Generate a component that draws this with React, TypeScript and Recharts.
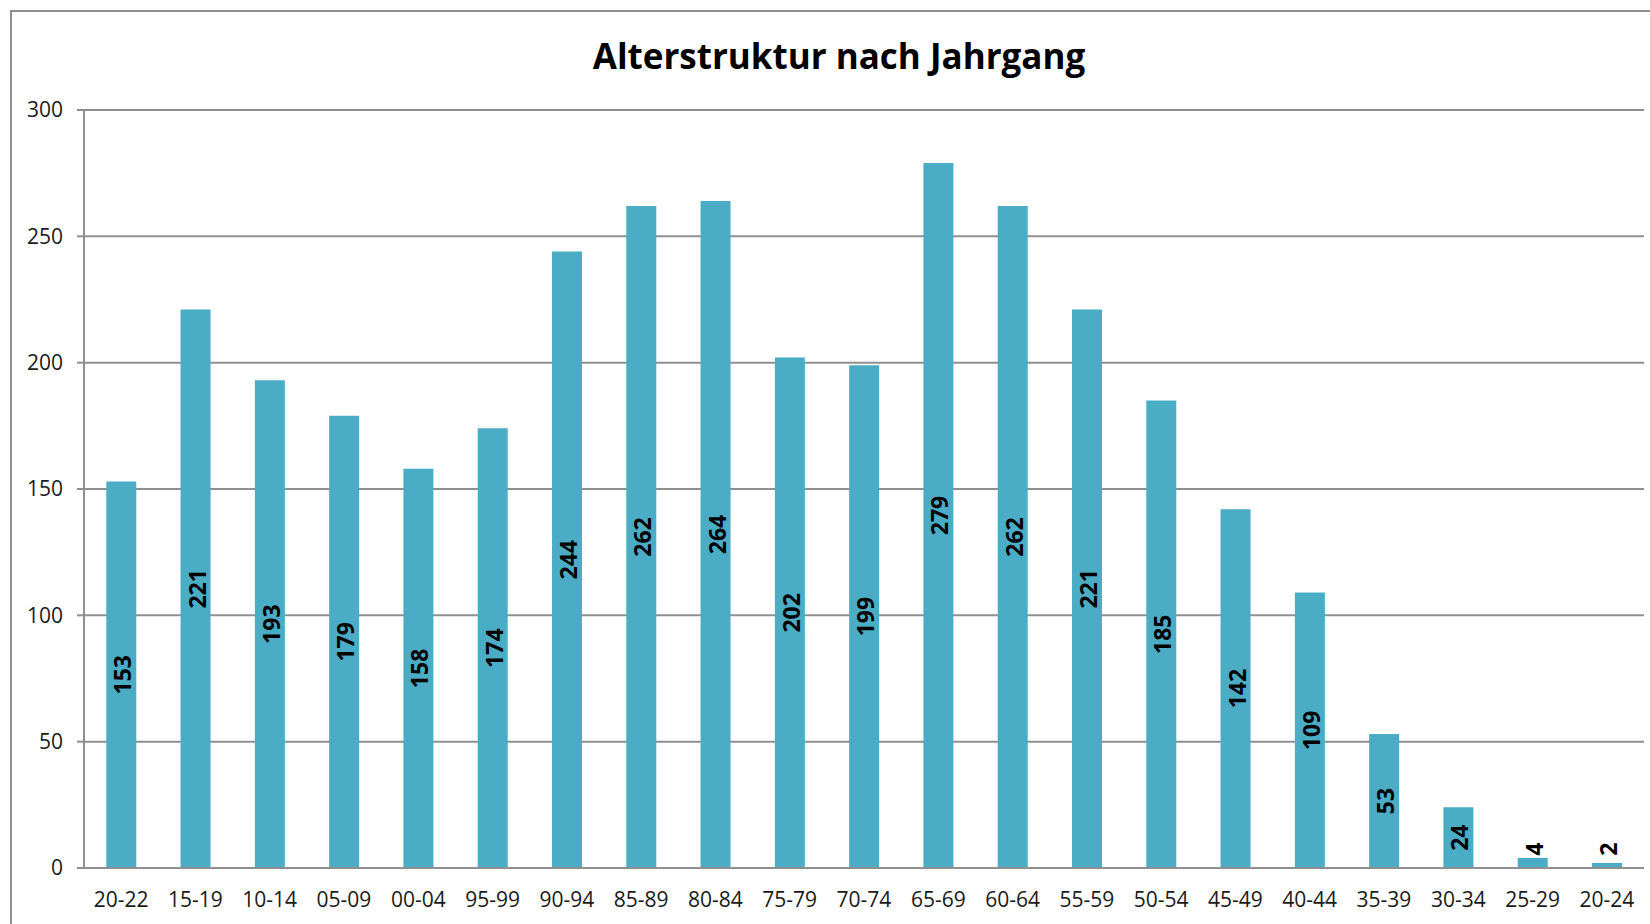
import React from "react";
import { BarChart, Bar, XAxis, YAxis, CartesianGrid, LabelList } from "recharts";

const categories = ["20-22","15-19","10-14","05-09","00-04","95-99","90-94","85-89","80-84","75-79","70-74","65-69","60-64","55-59","50-54","45-49","40-44","35-39","30-34","25-29","20-24"];
const values = [153,221,193,179,158,174,244,262,264,202,199,279,262,221,185,142,109,53,24,4,2];
const yTicks = [0, 50, 100, 150, 200, 250, 300];
const title = "Alterstruktur nach Jahrgang";

const data = categories.map((c, i) => ({ name: c, value: values[i] }));

const FONT = "'Open Sans', sans-serif";
const GRAY = "#8f8f8f";

const BarLabel = (props: any) => {
  const { x, y, width, height, value } = props;
  const fontSize = 23;
  const textLen = String(value).length * fontSize * 0.6;
  const cx = x + width / 2 + 1;
  let cy = y + height / 2;
  if (height < textLen + 8) {
    cy = y + height - 12 - textLen / 2;
  }
  return (
    <text
      x={cx}
      y={cy}
      transform={`rotate(-90, ${cx}, ${cy})`}
      textAnchor="middle"
      dominantBaseline="central"
      fontFamily={FONT}
      fontWeight={700}
      fontSize={fontSize}
      fill="#000"
    >
      {value}
    </text>
  );
};

export default function App() {
  return (
    <div style={{ position: "absolute", left: 0, top: 0, width: 1650, height: 924, overflow: "hidden", background: "#fff" }}>
      <div
        style={{
          position: "absolute",
          left: 10,
          top: 10,
          width: 1700,
          height: 1000,
          border: `2px solid ${GRAY}`,
          boxSizing: "border-box",
        }}
      />
      <div
        style={{
          position: "absolute",
          left: 339,
          width: 1000,
          top: 32,
          textAlign: "center",
          fontFamily: FONT,
          fontWeight: 700,
          fontSize: 35,
          lineHeight: "48px",
          color: "#000",
        }}
      >
        {title}
      </div>
      <div style={{ position: "absolute", left: 0, top: 0 }}>
        <BarChart
          width={1650}
          height={924}
          data={data}
          margin={{ top: 110, right: 6, bottom: 0, left: 10 }}
          barCategoryGap="30%"
        >
          <CartesianGrid vertical={false} stroke={GRAY} strokeWidth={2} />
          <XAxis
            dataKey="name"
            tickLine={false}
            axisLine={{ stroke: GRAY, strokeWidth: 2 }}
            tick={{ fontFamily: FONT, fontSize: 21, fill: "#1a1a1a" }}
            tickMargin={18}
            interval={0}
            height={56}
          />
          <YAxis
            domain={[0, 300]}
            ticks={yTicks}
            width={74}
            axisLine={{ stroke: GRAY, strokeWidth: 2 }}
            tickLine={{ stroke: GRAY, strokeWidth: 2 }}
            tickSize={7}
            tickMargin={14}
            tick={{ fontFamily: FONT, fontSize: 21, fill: "#1a1a1a" }}
          />
          <Bar dataKey="value" fill="#4BACC6" isAnimationActive={false}>
            <LabelList dataKey="value" content={BarLabel} />
          </Bar>
        </BarChart>
      </div>
    </div>
  );
}
